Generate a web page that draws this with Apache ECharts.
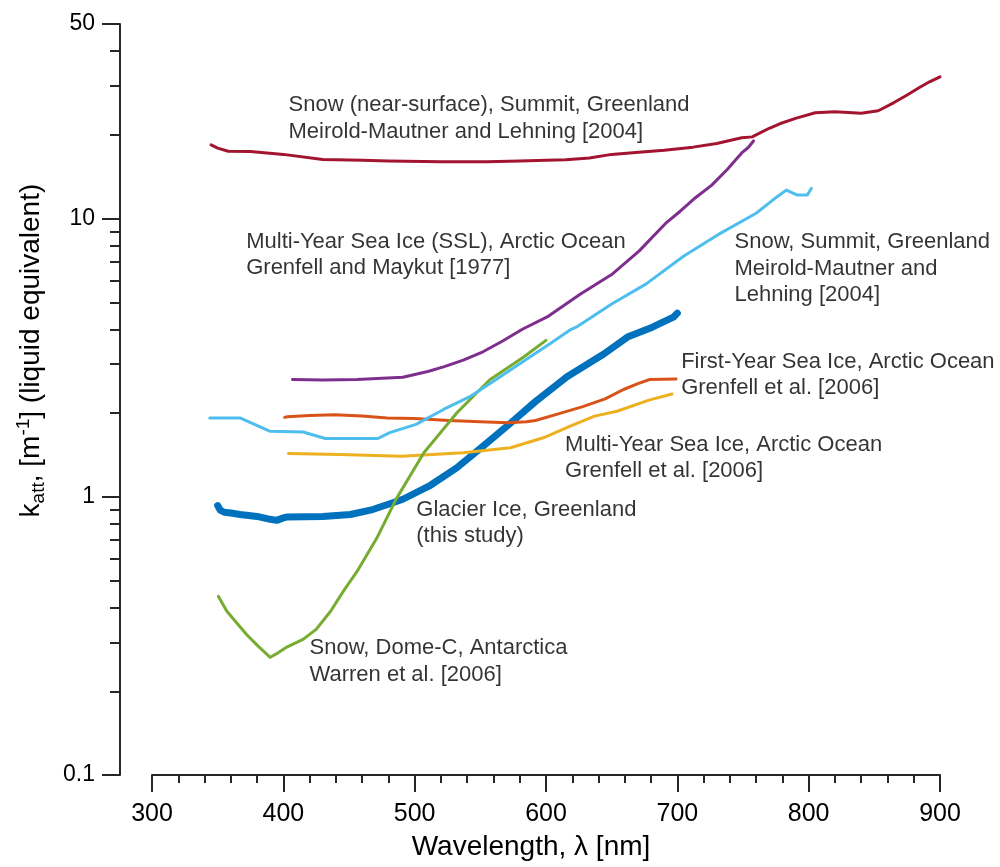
<!DOCTYPE html>
<html>
<head>
<meta charset="utf-8">
<script src="https://cdn.jsdelivr.net/npm/echarts@6/dist/echarts.min.js"></script>
<style>
  html, body { margin: 0; padding: 0; background: #fff; }
  #chart { width: 1000px; height: 867px; }
</style>
</head>
<body>
<div id="chart"></div>
<script>
// ---- Data (wavelength nm, k_att m^-1) ----
const seriesNames = [
  'Glacier Ice, Greenland (this study)',
  'First-Year Sea Ice, Grenfell et al. 2006',
  'Multi-Year Sea Ice, Grenfell et al. 2006',
  'Snow, Dome-C, Warren et al. 2006',
  'Snow, Summit, Meirold-Mautner and Lehning 2004',
  'Multi-Year Sea Ice (SSL), Grenfell and Maykut 1977',
  'Snow (near-surface), Summit, Meirold-Mautner and Lehning 2004'
];
const glacierIce = [[350,0.93],[352,0.895],[355,0.88],[360,0.875],[367,0.864],[380,0.85],[390,0.83],[395,0.823],[400,0.84],[403,0.847],[430,0.85],[451,0.864],[468,0.90],[480,0.94],[491,0.98],[512,1.10],[532,1.27],[552,1.52],[573,1.84],[592,2.2],[616,2.7],[644,3.26],[662,3.75],[681,4.07],[697,4.42],[700,4.57]];
const firstYearIce = [[401,1.93],[403,1.94],[420,1.96],[439,1.97],[460,1.95],[479,1.92],[500,1.91],[526,1.88],[550,1.86],[571,1.845],[585,1.86],[592,1.88],[610,1.99],[628,2.11],[645,2.25],[659,2.43],[670,2.55],[679,2.64],[699,2.65]];
const multiYearIce = [[404,1.43],[443,1.42],[490,1.40],[537,1.44],[573,1.50],[598,1.63],[618,1.79],[637,1.95],[654,2.03],[679,2.23],[696,2.34]];
const snowDomeC = [[350.5,0.439],[357,0.388],[372,0.320],[381,0.29],[390,0.265],[396,0.275],[403,0.289],[415,0.3075],[425,0.334],[436,0.388],[446,0.46],[456,0.538],[471,0.708],[486,0.983],[507,1.44],[532,2.0],[557,2.63],[583,3.18],[600,3.65]];
const snowSummit = [[344,1.92],[367,1.92],[390,1.72],[415,1.71],[432,1.62],[472,1.62],[481,1.70],[501,1.82],[522,2.06],[542,2.29],[562,2.64],[582,3.05],[603,3.55],[618,3.97],[623,4.07],[650,4.93],[676,5.81],[705,7.33],[731,8.75],[760,10.45],[776,11.98],[783,12.65],[791,12.15],[799,12.15],[802,12.83]];
const multiYearSSL = [[407,2.64],[430,2.63],[456,2.64],[491,2.69],[510,2.82],[522,2.93],[537,3.1],[552,3.32],[567,3.63],[582,4.0],[602,4.46],[626,5.34],[650,6.29],[671,7.65],[691,9.6],[702,10.6],[714,11.9],[726,13.15],[738,15.0],[749,17.2],[754,18.0],[758,19.0]];
const snowNearSurface = [[345,18.4],[350,17.9],[358,17.45],[375,17.4],[400,17.0],[430,16.3],[460,16.2],[480,16.1],[520,16.0],[555,16.0],[580,16.1],[600,16.2],[615,16.25],[633,16.5],[650,17.0],[673,17.35],[690,17.6],[712,18.05],[730,18.6],[749,19.5],[757,19.65],[763,20.3],[770,21.1],[778,21.9],[790,22.9],[805,24.0],[820,24.2],[840,23.9],[853,24.4],[865,26.1],[875,27.8],[884,29.5],[892,31.0],[900,32.3]];

// ---- Axis ticks ----
const xMin = 300, xMax = 900, xStep = 100;
const yMajorTicks = [0.1, 1, 10, 50];
const yMinorTicks = [0.2,0.3,0.4,0.5,0.6,0.7,0.8,0.9,2,3,4,5,6,7,8,9,20,30,40];

// ---- Annotations (text, anchor at top-left in data coords) ----
const annotationTexts = [
  'Snow (near-surface), Summit, Greenland\nMeirold-Mautner and Lehning [2004]',
  'Multi-Year Sea Ice (SSL), Arctic Ocean\nGrenfell and Maykut [1977]',
  'Snow, Summit, Greenland\nMeirold-Mautner and\nLehning [2004]',
  'First-Year Sea Ice, Arctic Ocean\nGrenfell et al. [2006]',
  'Multi-Year Sea Ice, Arctic Ocean\nGrenfell et al. [2006]',
  'Glacier Ice, Greenland\n(this study)',
  'Snow, Dome-C, Antarctica\nWarren et al. [2006]'
];
const annotationX = [404.3, 372.1, 743.9, 703.3, 614.9, 501.6, 420.3];
const annotationY = [28.4, 9.18, 9.15, 3.40, 1.71, 1.0, 0.318];

const FONT = "'Liberation Sans', Arial, Helvetica, sans-serif";
const AX = '#262626';
const TXT = '#000000';

const chart = echarts.init(document.getElementById('chart'), null, {renderer: 'canvas'});

function lineSeries(name, data, color, width) {
  return {
    name: name, type: 'line', data: data, xAxisIndex: 0, yAxisIndex: 0,
    showSymbol: false, symbol: 'none', smooth: false, silent: true,
    lineStyle: {color: color, width: width, cap: 'round', join: 'round'},
    itemStyle: {color: color}, emphasis: {disabled: true}
  };
}

const option = {
  animation: false,
  backgroundColor: '#ffffff',
  textStyle: {fontFamily: FONT},
  grid: {left: 152, right: 60, top: 24, bottom: 85, containLabel: false},
  xAxis: {
    type: 'value', min: xMin, max: xMax, interval: xStep,
    name: 'Wavelength, λ [nm]', nameLocation: 'middle', nameGap: 56,
    nameTextStyle: {fontSize: 28, lineHeight: 30, color: TXT, fontFamily: FONT, padding: [0, 30, 0, 0]},
    axisLine: {show: true, onZero: false, lineStyle: {color: AX, width: 2}},
    axisTick: {show: true, length: 17, lineStyle: {color: AX, width: 2}},
    minorTick: {show: true, splitNumber: 5, length: 8, lineStyle: {color: AX, width: 2}},
    axisLabel: {margin: 27, fontSize: 25, color: TXT, fontFamily: FONT},
    splitLine: {show: false}, minorSplitLine: {show: false}
  },
  yAxis: [
    {
      type: 'log', logBase: 10, min: yMajorTicks[0], max: yMajorTicks[yMajorTicks.length - 1],
      position: 'left', offset: 32,
      name: '{m|k}{sub|att}{m|, [m}{sup|-1}{m|] (liquid equivalent)}',
      nameLocation: 'middle', nameGap: 72, nameRotate: 90,
      nameTextStyle: {
        color: TXT, fontFamily: FONT, fontSize: 28, padding: [0, 0, 0, 98],
        rich: {
          m: {fontSize: 28, lineHeight: 34, color: TXT, fontFamily: FONT},
          sub: {fontSize: 19, lineHeight: 20, verticalAlign: 'bottom', color: TXT, fontFamily: FONT},
          sup: {fontSize: 19, lineHeight: 20, verticalAlign: 'top', color: TXT, fontFamily: FONT}
        }
      },
      axisLine: {show: true, onZero: false, lineStyle: {color: AX, width: 2}},
      axisTick: {show: true, length: 18, customValues: yMajorTicks, lineStyle: {color: AX, width: 2}},
      axisLabel: {margin: 25, fontSize: 23, color: TXT, fontFamily: FONT, customValues: yMajorTicks,
                  formatter: function (v) { return String(+v.toPrecision(6)); }},
      splitLine: {show: false}, minorTick: {show: false}
    },
    {
      type: 'log', logBase: 10, min: yMajorTicks[0], max: yMajorTicks[yMajorTicks.length - 1],
      position: 'left', offset: 32,
      axisLine: {show: false},
      axisTick: {show: true, length: 10, customValues: yMinorTicks, lineStyle: {color: AX, width: 2}},
      axisLabel: {show: false},
      splitLine: {show: false}
    }
  ],
  series: [
    lineSeries(seriesNames[0], glacierIce, '#0072BD', 7),
    lineSeries(seriesNames[1], firstYearIce, '#D95319', 3),
    lineSeries(seriesNames[2], multiYearIce, '#EDB120', 3),
    lineSeries(seriesNames[3], snowDomeC, '#77AC30', 3),
    lineSeries(seriesNames[4], snowSummit, '#4DBEEE', 3),
    lineSeries(seriesNames[5], multiYearSSL, '#7E2F8E', 3),
    lineSeries(seriesNames[6], snowNearSurface, '#A2142F', 3),
    {
      name: 'annotations', type: 'scatter', silent: true, symbolSize: 1,
      itemStyle: {color: 'rgba(0,0,0,0)'}, emphasis: {disabled: true},
      data: annotationTexts.map(function (t, i) {
        return {value: [annotationX[i], annotationY[i]], label: {formatter: t}};
      }),
      label: {
        show: true, position: [0, 0], align: 'left', verticalAlign: 'top',
        fontSize: 22, lineHeight: 26.5, color: TXT, fontFamily: FONT
      },
      z: 10
    }
  ]
};
chart.setOption(option);
</script>
</body>
</html>
